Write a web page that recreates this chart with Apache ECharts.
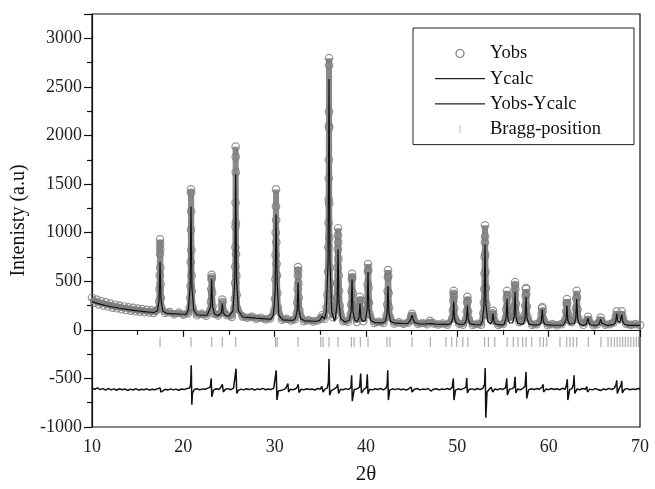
<!DOCTYPE html>
<html>
<head>
<meta charset="utf-8">
<script src="https://cdn.jsdelivr.net/npm/echarts@6/dist/echarts.min.js"></script>
<style>html,body{margin:0;padding:0;background:#fff}#c{width:655px;height:489px}</style>
</head>
<body>
<div id="c"></div>
<script>
// ---- data ----
const xTicks = [10, 20, 30, 40, 50, 60, 70];
const yTicks = [-1000, -500, 0, 500, 1000, 1500, 2000, 2500, 3000];

// observed intensities [2theta, I]
const yobs = [
[10.0,330],[10.25,280],[10.5,310],[10.75,262],[11.0,295],[11.25,250],[11.5,282],[11.75,240],[12.0,270],[12.25,228],[12.5,258],[12.75,222],[13.0,250],[13.25,212],[13.5,240],[13.75,205],[14.0,232],[14.25,198],[14.5,225],[14.75,192],[15.0,218],[15.25,188],[15.5,212],[15.75,183],[16.0,206],[16.25,178],[16.5,200],[16.75,175],[17.0,196],
[17.3,215],[17.36,290],[17.4,420],[17.42,560],[17.44,780],[17.45,930],[17.46,880],[17.47,830],[17.49,640],[17.51,470],[17.54,330],[17.6,230],
[18.0,174],[18.5,182],[19.0,160],[19.5,176],[20.0,156],[20.5,168],
[20.7,230],[20.76,330],[20.79,450],[20.81,700],[20.83,1030],[20.84,1445],[20.85,1410],[20.86,1220],[20.88,820],[20.9,560],[20.93,400],[21.0,240],
[21.5,150],[22.0,164],[22.5,146],
[22.95,200],[23.02,290],[23.06,420],[23.09,520],[23.1,565],[23.12,540],[23.15,380],[23.2,240],[23.3,170],
[23.8,148],
[24.15,180],[24.22,250],[24.27,310],[24.3,285],[24.37,200],
[24.8,150],[25.3,134],
[25.58,220],[25.63,320],[25.67,480],[25.69,650],[25.7,850],[25.71,1060],[25.72,1310],[25.73,1885],[25.735,1780],[25.74,1620],[25.75,1100],[25.77,780],[25.8,560],[25.84,360],[25.9,220],
[26.5,136],[27.0,124],[27.5,134],[28.0,116],[28.5,124],[29.0,108],[29.5,118],
[29.98,200],[30.04,320],[30.08,520],[30.1,770],[30.12,1000],[30.14,1270],[30.15,1445],[30.16,1130],[30.18,900],[30.21,680],[30.25,560],[30.29,380],[30.35,230],
[30.8,104],[31.3,112],[31.8,96],[32.2,106],
[32.42,170],[32.48,280],[32.52,420],[32.55,560],[32.56,645],[32.57,610],[32.6,480],[32.64,330],[32.7,200],
[33.2,90],[33.7,100],[34.2,86],[34.7,96],
[35.05,115],[35.2,150],[35.3,130],[35.45,115],
[35.7,230],[35.78,360],[35.84,600],[35.87,850],[35.9,1100],[35.91,1340],[35.92,1560],[35.93,1750],[35.94,2100],[35.945,2246],[35.95,2795],[35.955,2723],[35.96,2080],[35.97,1300],[35.99,950],[36.02,640],[36.06,480],[36.12,300],[36.2,200],
[36.4,130],[36.6,150],
[36.75,220],[36.82,330],[36.86,480],[36.89,640],[36.91,830],[36.93,972],[36.94,1045],[36.96,900],[36.98,730],[37.01,560],[37.05,400],[37.12,250],
[37.5,90],[38.0,84],
[38.33,160],[38.38,260],[38.42,400],[38.45,520],[38.47,575],[38.49,540],[38.53,380],[38.58,250],[38.66,150],
[39.0,82],
[39.22,150],[39.28,230],[39.33,340],[39.36,300],[39.42,200],
[39.7,90],
[40.08,180],[40.14,300],[40.18,470],[40.21,600],[40.22,676],[40.24,620],[40.28,430],[40.33,280],[40.4,160],
[40.9,72],[41.4,82],[41.9,70],
[42.27,150],[42.33,260],[42.37,400],[42.4,540],[42.41,615],[42.43,560],[42.47,380],[42.53,230],[42.62,130],
[43.1,66],[43.6,76],[44.1,62],[44.6,74],
[44.85,100],[44.95,140],[45.04,165],[45.13,140],[45.25,100],
[45.7,60],[46.2,70],[46.7,58],[47.0,92],
[47.4,66],[47.9,55],[48.4,65],[48.9,54],
[49.46,120],[49.52,200],[49.56,300],[49.59,370],[49.6,400],[49.62,340],[49.66,220],[49.74,120],
[50.2,62],[50.6,52],
[50.96,110],[51.03,190],[51.07,280],[51.1,340],[51.13,300],[51.18,190],[51.26,110],
[51.7,50],[52.2,61],[52.6,54],
[52.85,170],[52.91,280],[52.95,420],[52.98,580],[53.0,750],[53.02,900],[53.03,1075],[53.04,960],[53.06,780],[53.09,600],[53.13,430],[53.19,260],[53.27,150],
[53.75,110],[53.85,170],[53.9,195],[53.96,150],[54.05,95],
[54.5,50],[55.0,60],
[55.3,120],[55.36,210],[55.4,320],[55.43,400],[55.46,350],[55.5,240],[55.58,130],
[56.18,130],[56.24,230],[56.28,360],[56.31,460],[56.32,490],[56.35,420],[56.4,270],[56.48,150],
[56.8,80],[57.1,95],
[57.38,150],[57.44,250],[57.48,350],[57.51,420],[57.52,430],[57.55,370],[57.6,240],[57.68,130],
[58.2,50],[58.7,59],
[59.15,100],[59.22,160],[59.28,220],[59.3,235],[59.34,190],[59.42,110],
[59.9,48],[60.4,58],[60.9,47],[61.4,58],
[61.85,110],[61.92,190],[61.97,270],[62.0,315],[62.03,270],[62.09,170],[62.2,100],
[62.5,80],
[62.92,130],[62.99,220],[63.04,320],[63.07,400],[63.1,340],[63.16,210],[63.26,110],
[63.8,52],
[64.2,95],[64.3,133],[64.38,100],
[64.9,48],[65.3,58],
[65.6,95],[65.7,125],[65.78,90],
[66.2,52],[66.7,58],[67.1,75],
[67.35,140],[67.45,190],[67.55,130],
[67.75,110],
[67.9,150],[68.0,190],[68.08,140],
[68.5,60],[69.0,50],[69.5,58],[70.0,48]
];

// calculated profile [2theta, I]
const ycalc = [
[10,290],[10.5,275],[11,262],[11.5,250],[12,240],[13,222],[14,207],[15,195],[16,185],[16.8,178],
[17.15,194],[17.35,305],[17.45,700],[17.55,305],[17.75,194],
[18.2,169],[19,165],[20,160],[20.3,158],
[20.54,202],[20.74,435],[20.84,1270],[20.94,435],[21.14,202],
[21.5,155],[22,152],[22.6,150],
[22.8,163],[23.0,241],[23.1,520],[23.2,241],[23.4,163],
[23.8,145],
[23.97,149],[24.17,176],[24.27,270],[24.37,176],[24.57,149],
[25.0,140],
[25.43,196],[25.63,504],[25.73,1600],[25.83,504],[26.03,196],
[26.5,132],[27,128],[28,120],[29,113],[29.6,110],
[29.85,150],[30.05,378],[30.15,1190],[30.27,500],[30.45,150],
[30.9,103],[31.5,100],[32,98],
[32.26,113],[32.46,195],[32.56,490],[32.66,195],[32.86,113],
[33.3,93],[34,90],[34.7,88],
[34.95,100],[35.2,140],[35.45,110],
[35.65,186],[35.85,710],[35.95,2580],[36.05,710],[36.25,186],
[36.55,90],
[36.64,113],[36.84,270],[36.94,830],[37.04,270],[37.24,113],
[37.7,81],
[38.17,98],[38.37,190],[38.47,520],[38.57,190],[38.77,98],
[39.04,85],[39.24,125],[39.34,270],[39.44,125],[39.64,85],
[39.92,96],[40.12,205],[40.22,595],[40.32,205],[40.52,96],
[41,73],[41.8,71],
[42.11,85],[42.31,165],[42.41,450],[42.51,165],[42.71,85],
[43.2,68],[44,66],[44.6,65],
[44.75,75],[44.92,110],[45.04,150],[45.16,110],[45.33,75],
[45.8,62],[46.5,60],
[46.8,64],[47.0,80],[47.2,64],
[47.6,58],[48.3,57],[49.0,56],
[49.3,65],[49.5,114],[49.6,290],[49.7,114],[49.9,65],
[50.4,55],
[50.8,62],[51.0,103],[51.1,250],[51.2,103],[51.4,62],
[51.9,53],[52.5,52],
[52.73,85],[52.93,259],[53.03,880],[53.13,259],[53.33,85],
[53.65,60],[53.8,90],[53.9,170],[54.0,90],[54.15,60],
[54.6,51],[55.1,50],
[55.2,61],[55.34,118],[55.44,320],[55.54,118],[55.7,70],
[56.05,70],[56.22,135],[56.32,390],[56.42,135],[56.62,64],
[56.95,58],
[57.25,62],[57.42,123],[57.52,340],[57.62,123],[57.82,62],
[58.3,50],[58.8,49],
[59.05,60],[59.2,89],[59.3,210],[59.4,89],[59.6,55],
[60.2,48],[61,47],[61.6,47],
[61.75,55],[61.9,98],[62.0,250],[62.1,98],[62.3,58],
[62.55,60],
[62.82,65],[62.97,115],[63.07,320],[63.17,115],[63.37,58],
[63.8,46],
[64.1,55],[64.2,75],[64.3,120],[64.4,75],[64.55,52],
[65.1,45],
[65.5,52],[65.6,70],[65.7,110],[65.8,70],[65.95,50],
[66.4,45],[66.9,50],
[67.2,58],[67.35,90],[67.45,165],[67.55,90],[67.7,70],
[67.8,75],[67.9,90],[68.0,155],[68.1,85],[68.3,55],
[68.8,46],[69.4,45],[70,45]
];

// difference curve Yobs-Ycalc (offset as plotted)
const ydiff = [
[10.0,-600],[10.3,-612],[10.6,-598],[10.9,-615],[11.2,-605],[11.5,-620],[11.8,-603],[12.1,-618],[12.4,-608],[12.7,-622],[13.0,-606],[13.3,-616],[13.6,-609],[13.9,-624],[14.2,-610],[14.5,-619],[14.8,-605],[15.1,-621],[15.4,-611],[15.7,-617],[16.0,-607],[16.3,-620],[16.6,-612],[16.9,-616],[17.2,-605],[17.35,-590],[17.45,-598],[17.55,-640],[17.7,-625],[18.0,-612],[18.3,-620],[18.6,-608],[18.9,-618],[19.2,-610],[19.5,-622],[19.8,-609],[20.1,-615],[20.4,-604],[20.7,-598],[20.8,-560],[20.87,-365],[20.93,-770],[21.0,-650],[21.2,-615],[21.5,-606],[21.8,-618],[22.1,-608],[22.4,-612],[22.7,-600],[22.95,-590],[23.05,-500],[23.12,-690],[23.3,-620],[23.6,-606],[23.9,-614],[24.15,-585],[24.27,-560],[24.38,-640],[24.6,-612],[24.9,-605],[25.2,-616],[25.5,-600],[25.68,-580],[25.77,-400],[25.85,-655],[26.0,-625],[26.3,-610],[26.6,-618],[26.9,-607],[27.2,-615],[27.5,-605],[27.8,-619],[28.1,-608],[28.4,-614],[28.7,-603],[29.0,-617],[29.3,-609],[29.6,-615],[29.9,-600],[30.08,-580],[30.17,-418],[30.25,-722],[30.4,-630],[30.6,-610],[30.9,-618],[31.2,-605],[31.38,-590],[31.45,-553],[31.52,-640],[31.7,-612],[32.0,-617],[32.3,-606],[32.5,-585],[32.58,-560],[32.66,-645],[32.9,-612],[33.2,-618],[33.5,-606],[33.8,-615],[34.1,-609],[34.4,-620],[34.7,-604],[35.0,-612],[35.15,-580],[35.3,-640],[35.5,-610],[35.75,-600],[35.88,-540],[35.95,-297],[36.02,-672],[36.2,-625],[36.5,-610],[36.8,-590],[36.9,-560],[37.0,-655],[37.2,-612],[37.5,-616],[37.8,-605],[38.1,-615],[38.35,-590],[38.43,-468],[38.5,-734],[38.7,-615],[39.0,-608],[39.3,-590],[39.42,-450],[39.5,-650],[39.8,-610],[40.05,-595],[40.14,-457],[40.22,-660],[40.4,-612],[40.7,-618],[41.0,-606],[41.3,-614],[41.6,-604],[41.9,-618],[42.2,-600],[42.32,-560],[42.38,-416],[42.45,-723],[42.6,-620],[42.9,-608],[43.2,-615],[43.5,-605],[43.8,-617],[44.1,-610],[44.4,-620],[44.7,-606],[44.95,-590],[45.05,-640],[45.3,-612],[45.6,-604],[45.9,-618],[46.2,-610],[46.5,-615],[46.8,-603],[47.0,-585],[47.1,-630],[47.4,-611],[47.7,-606],[48.0,-618],[48.3,-609],[48.6,-615],[48.9,-604],[49.2,-614],[49.45,-590],[49.56,-500],[49.63,-723],[49.8,-620],[50.1,-607],[50.4,-616],[50.7,-603],[50.95,-590],[51.03,-495],[51.1,-650],[51.3,-612],[51.6,-608],[51.9,-617],[52.2,-604],[52.5,-615],[52.8,-600],[52.98,-560],[53.05,-392],[53.12,-904],[53.25,-640],[53.5,-612],[53.7,-590],[53.8,-575],[53.88,-640],[54.1,-610],[54.4,-617],[54.7,-605],[55.0,-614],[55.3,-595],[55.41,-500],[55.48,-672],[55.7,-612],[56.0,-605],[56.22,-590],[56.32,-483],[56.4,-650],[56.6,-610],[56.9,-617],[57.2,-600],[57.42,-580],[57.52,-433],[57.6,-706],[57.8,-618],[58.1,-606],[58.4,-615],[58.7,-604],[59.0,-612],[59.3,-585],[59.38,-560],[59.45,-640],[59.7,-610],[60.0,-616],[60.3,-604],[60.6,-614],[60.9,-607],[61.2,-617],[61.5,-602],[61.8,-612],[61.97,-560],[62.04,-508],[62.1,-723],[62.3,-615],[62.55,-605],[62.72,-560],[62.78,-468],[62.86,-655],[63.1,-610],[63.4,-617],[63.7,-604],[64.0,-612],[64.17,-585],[64.25,-640],[64.5,-610],[64.8,-618],[65.1,-605],[65.4,-614],[65.6,-595],[65.7,-625],[66.0,-608],[66.3,-616],[66.6,-603],[66.9,-614],[67.2,-600],[67.38,-560],[67.45,-520],[67.52,-655],[67.7,-610],[67.92,-570],[68.0,-525],[68.07,-650],[68.3,-612],[68.6,-605],[68.9,-617],[69.2,-608],[69.5,-614],[69.8,-604],[70.0,-612]
];

// Bragg reflection positions (2theta) and the level they are drawn at
const braggPos = [17.45,20.84,23.1,24.27,25.73,30.1,30.27,32.56,35.05,35.3,35.95,36.94,38.4,38.7,39.38,40.22,42.3,42.62,45.05,47.05,48.75,49.38,49.93,50.6,51.15,52.98,53.4,54.1,55.45,56.13,56.64,57.15,57.52,58.14,59.05,59.42,59.79,61.24,61.97,62.34,62.7,63.07,64.34,65.73,66.5,66.85,67.2,67.5,67.8,68.1,68.4,68.7,69.0,69.3,69.6,69.85];
const braggLevel = -125;

// ---- chart ----
const serif = 'Liberation Serif';
const lineIcon = 'path://M0,0h50v1.2h-50z';
const chart = echarts.init(document.getElementById('c'), null, {renderer: 'canvas'});
chart.setOption({
  animation: false,
  backgroundColor: '#fff',
  grid: {left: 92, right: 15, top: 14, bottom: 62, show: true, borderColor: '#111', borderWidth: 1.2,
         backgroundColor: 'transparent', containLabel: false, outerBoundsMode: 'none'},
  legend: {
    orient: 'vertical', left: 413, top: 28,
    padding: [16, 33, 6, 22],
    itemWidth: 50, itemHeight: 8, itemGap: 6.2,
    borderColor: '#222', borderWidth: 1,
    selectedMode: false,
    textStyle: {fontFamily: serif, fontSize: 18.5, color: '#111'},
    data: [
      {name: 'Yobs', icon: 'circle', itemStyle: {color: '#fff', borderColor: '#777', borderWidth: 1.2}},
      {name: 'Ycalc', icon: lineIcon, itemStyle: {color: '#222', borderWidth: 0}},
      {name: 'Yobs-Ycalc', icon: lineIcon, itemStyle: {color: '#222', borderWidth: 0}},
      {name: 'Bragg-position', icon: 'path://M0,0h1v10h-1z', itemStyle: {color: '#9a9a9a', borderWidth: 0}}
    ]
  },
  xAxis: {
    type: 'value', min: xTicks[0], max: xTicks[xTicks.length - 1], interval: 10,
    name: '2θ', nameLocation: 'middle', nameGap: 37,
    nameTextStyle: {fontFamily: serif, fontSize: 21, color: '#111'},
    axisLine: {lineStyle: {color: '#111', width: 1.2}},
    axisTick: {show: true, inside: false, length: 7, lineStyle: {color: '#111', width: 1.2}},
    minorTick: {show: true, splitNumber: 2, length: 5, lineStyle: {color: '#111', width: 1.2}},
    splitLine: {show: false},
    axisLabel: {fontFamily: serif, fontSize: 18, color: '#222', margin: 11}
  },
  yAxis: {
    type: 'value', min: yTicks[0], max: 3250, interval: 500,
    name: 'Intenisty (a.u)', nameLocation: 'middle', nameGap: 62,
    nameTextStyle: {fontFamily: serif, fontSize: 20, color: '#111'},
    axisLine: {show: true, lineStyle: {color: '#111', width: 1.2}},
    axisTick: {show: true, inside: false, length: 8, lineStyle: {color: '#111', width: 1.2}},
    minorTick: {show: true, splitNumber: 2, length: 5, lineStyle: {color: '#111', width: 1.2}},
    splitLine: {show: false},
    axisLabel: {fontFamily: serif, fontSize: 18, color: '#222', margin: 10, showMaxLabel: false,
      formatter: v => (yTicks.indexOf(v) >= 0 ? String(v) : '')}
  },
  series: [
    {name: 'Yobs', type: 'line', data: yobs, symbol: 'none', silent: true,
     lineStyle: {color: '#8a8a8a', width: 6}, z: 1},
    {name: 'Yobs', type: 'scatter', data: yobs, symbol: 'circle', symbolSize: 7.5, silent: true,
     itemStyle: {color: 'rgba(255,255,255,0)', borderColor: '#7a7a7a', borderWidth: 1.2}, z: 2},
    {name: 'Ycalc', type: 'line', data: ycalc, symbol: 'none', silent: true,
     itemStyle: {color: '#222'}, lineStyle: {color: '#111', width: 1.2}, z: 3},
    {name: 'Yobs-Ycalc', type: 'line', data: ydiff, symbol: 'none', silent: true,
     itemStyle: {color: '#222'}, lineStyle: {color: '#111', width: 1.5}, z: 3},
    {name: 'Bragg-position', type: 'scatter', data: braggPos.map(t => [t, braggLevel]),
     symbol: 'path://M0,0h1v10h-1z', symbolSize: [1.2, 10], symbolKeepAspect: false, silent: true,
     itemStyle: {color: '#9a9a9a'}, z: 2}
  ]
});
</script>
</body>
</html>
